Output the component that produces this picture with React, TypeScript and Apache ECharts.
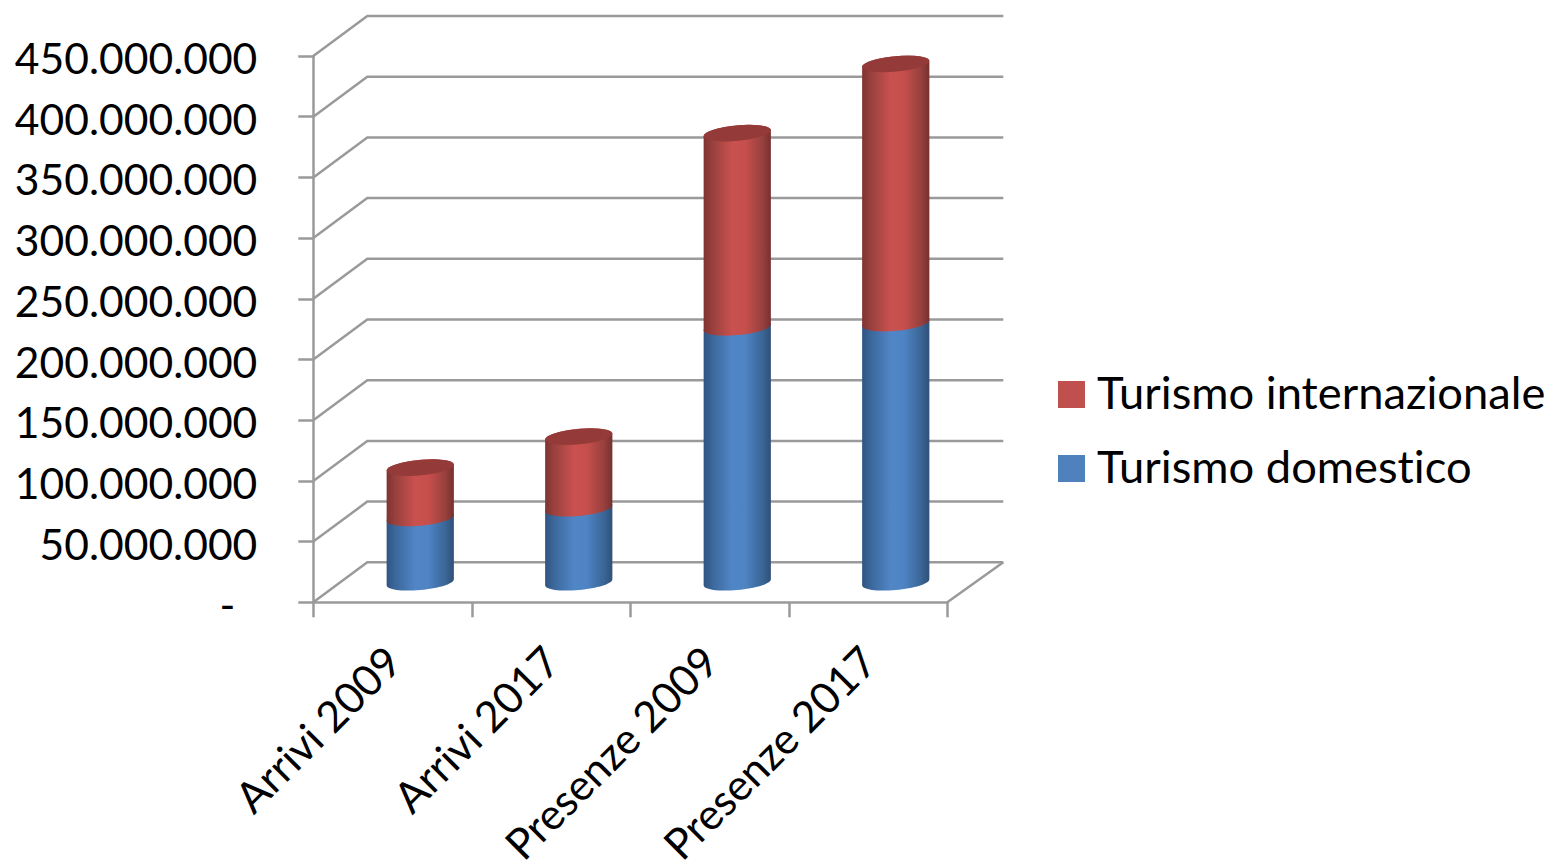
import React, { useEffect, useRef } from "react";
import * as echarts from "echarts";

const categories = ["Arrivi 2009", "Arrivi 2017", "Presenze 2009", "Presenze 2017"];
const domestico = [53000000, 61000000, 210000000, 213500000];
const internazionale = [41500000, 59000000, 160000000, 213500000];
const gridValues = [0, 50000000, 100000000, 150000000, 200000000, 250000000, 300000000, 350000000, 400000000, 450000000];

const FONT = "Lato";
const LINE = "#9a9a9a";
// Depth of the box drawn behind the front plane; the bars stand halfway along it.
const DEPTH_X = 54;
const DEPTH_Y = -40;
const BAR_SHIFT_X = 27.7;
// Cylinder section: a circle sheared along the depth direction.
const RADIUS_U = 31.4;
const RADIUS_VX = 12;
const RADIUS_VY = -8.3;

const fmt = (v: number) =>
  v === 0 ? "{dash|-}" : String(v).replace(/\B(?=(\d{3})+(?!\d))/g, ".");

const ALPHA = Math.atan2(RADIUS_VX, RADIUS_U);

function sectionPoint(cx: number, cy: number, t: number) {
  return [
    cx + RADIUS_U * Math.cos(t) + RADIUS_VX * Math.sin(t),
    cy + RADIUS_VY * Math.sin(t),
  ];
}

// Part of the section outline between two angles.
function arc(cx: number, cy: number, from: number, to: number) {
  const pts: number[][] = [];
  const n = 32;
  for (let i = 0; i <= n; i++) pts.push(sectionPoint(cx, cy, from + ((to - from) * i) / n));
  return pts;
}

function shade(stops: [number, string][]) {
  return new echarts.graphic.LinearGradient(
    0,
    0,
    1,
    0,
    stops.map(([offset, color]) => ({ offset, color }))
  );
}

const redBody: [number, string][] = [
  [0, "#7f3331"],
  [0.12, "#96403d"],
  [0.42, "#c9514f"],
  [0.62, "#c64f4c"],
  [0.88, "#96403d"],
  [1, "#763030"],
];
const blueBody: [number, string][] = [
  [0, "#2f5482"],
  [0.12, "#3b6699"],
  [0.42, "#5085c6"],
  [0.62, "#4e83c4"],
  [0.88, "#3a6595"],
  [1, "#2f5078"],
];

function cylinderRenderer(stops: [number, string][], capColor: string | null) {
  return (_params: any, api: any) => {
    const cat = api.value(0);
    const base = api.coord([cat, api.value(1)]);
    const top = api.coord([cat, api.value(2)]);
    const cx = base[0] + BAR_SHIFT_X;
    const by = base[1] + DEPTH_Y / 2;
    const ty = top[1] + DEPTH_Y / 2;
    const front = arc(cx, by, Math.PI + ALPHA, 2 * Math.PI + ALPHA);
    const back = arc(cx, ty, ALPHA, Math.PI + ALPHA);
    const children: any[] = [
      {
        type: "polygon",
        shape: { points: front.concat(back) },
        style: { fill: shade(stops) },
      },
    ];
    if (capColor) {
      children.push({
        type: "polygon",
        shape: { points: arc(cx, ty, 0, 2 * Math.PI) },
        style: { fill: capColor },
      });
    }
    return { type: "group", children };
  };
}

// Floor and back-wall lines for one axis value.
function wallRenderer(_params: any, api: any) {
  const v = api.value(0);
  const half = api.size([1, 0])[0] / 2;
  const p = api.coord([0, v]);
  const left = p[0] - half;
  const right = left + half * 2 * categories.length;
  const children: any[] = [
    {
      type: "polyline",
      shape: {
        points: [
          [left, p[1]],
          [left + DEPTH_X, p[1] + DEPTH_Y],
          [right + DEPTH_X + 2, p[1] + DEPTH_Y],
        ],
      },
      style: { stroke: LINE, lineWidth: 2.5, fill: "none" },
    },
  ];
  if (v === 0) {
    children.push({
      type: "line",
      shape: { x1: right, y1: p[1], x2: right + DEPTH_X + 2, y2: p[1] + DEPTH_Y },
      style: { stroke: LINE, lineWidth: 2.5 },
    });
  }
  return { type: "group", children };
}

export default function App() {
  const ref = useRef<HTMLDivElement>(null);

  useEffect(() => {
    if (!ref.current) return;
    const chart = echarts.init(ref.current, undefined, { renderer: "svg" });
    chart.setOption({
      animation: false,
      backgroundColor: "#ffffff",
      textStyle: { fontFamily: FONT },
      grid: {
        left: 313.3,
        top: 56,
        width: 634,
        height: 546.3,
        containLabel: false,
        outerBoundsMode: "none",
      },
      legend: {
        show: true,
        orient: "vertical",
        left: 1053,
        top: 364,
        itemWidth: 27,
        itemHeight: 27,
        itemGap: 29,
        icon: "rect",
        selectedMode: false,
        data: ["Turismo internazionale", "Turismo domestico"],
        formatter: "{t|{name}}",
        textStyle: {
          fontFamily: FONT,
          fontSize: 45.3,
          color: "#000000",
          rich: {
            t: {
              fontFamily: FONT,
              fontSize: 45.3,
              color: "#000000",
              padding: [0, 0, 6, 7],
            },
          },
        },
      },
      xAxis: {
        type: "category",
        data: categories,
        boundaryGap: true,
        axisLine: { show: true, lineStyle: { color: LINE, width: 2.5 } },
        axisTick: { show: true, length: 15, lineStyle: { color: LINE, width: 2.5 } },
        axisLabel: {
          interval: 0,
          rotate: 45,
          margin: 51,
          fontFamily: FONT,
          fontSize: 42.8,
          color: "#000000",
        },
      },
      yAxis: {
        type: "value",
        min: 0,
        max: 450000000,
        interval: 50000000,
        splitLine: { show: false },
        axisLine: { show: true, lineStyle: { color: LINE, width: 2.5 } },
        axisTick: { show: true, length: 15, lineStyle: { color: LINE, width: 2.5 } },
        axisLabel: {
          margin: 56,
          formatter: fmt,
          fontFamily: FONT,
          fontSize: 42.6,
          padding: [3, 0, 0, 0],
          color: "#000000",
          rich: { dash: { fontFamily: FONT, fontSize: 42.6, color: "#000000", padding: [0, 22, 0, 0] } },
        },
      },
      series: [
        {
          type: "custom",
          name: "pareti",
          silent: true,
          clip: false,
          z: 1,
          encode: { y: 0 },
          data: gridValues.map((v) => [v]),
          renderItem: wallRenderer,
        },
        {
          type: "custom",
          name: "Turismo domestico",
          clip: false,
          z: 2,
          itemStyle: { color: "#4f81bd" },
          encode: { x: 0, y: [1, 2] },
          data: domestico.map((v, i) => [i, 0, v]),
          renderItem: cylinderRenderer(blueBody, null),
        },
        {
          type: "custom",
          name: "Turismo internazionale",
          clip: false,
          z: 3,
          itemStyle: { color: "#c0504d" },
          encode: { x: 0, y: [1, 2] },
          data: internazionale.map((v, i) => [i, domestico[i], domestico[i] + v]),
          renderItem: cylinderRenderer(redBody, "#943a38"),
        },
      ],
    });
    return () => chart.dispose();
  }, []);

  return (
    <div
      ref={ref}
      style={{
        position: "fixed",
        left: 0,
        top: 0,
        width: 1552,
        height: 862,
        fontVariantLigatures: "none",
      }}
    />
  );
}
